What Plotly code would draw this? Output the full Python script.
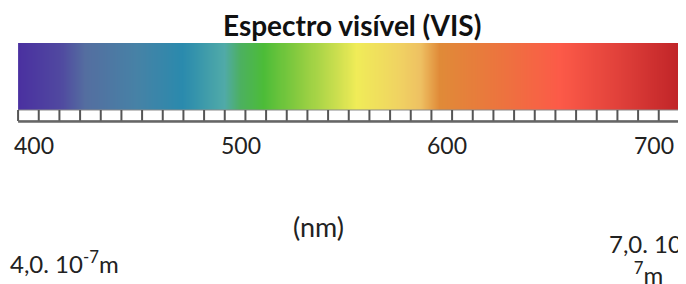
import numpy as np
import plotly.graph_objects as go

# ---- data ----
title = "Espectro visível (VIS)"
tick_values = [400, 500, 600, 700]
tick_labels = ["400", "500", "600", "700"]
unit_label = "(nm)"
left_label = "4,0. 10<sup>-7</sup>m"
right_label = "7,0. 10<sup>-</sup><br><sup>7</sup>m"

# spectrum span (nm) and colour stops (wavelength nm, colour)
span_start = 392.3
span_end = 712.1
stop_nm = [392.3, 412.6, 425.0, 450.0, 472.0, 492.0, 500.0, 511.0, 529.0, 548.0, 556.0, 577.0, 587.0, 596.5, 625.5, 654.5, 683.5, 712.1]
stop_colors = ["#4a30a0", "#5048a0", "#546ea0", "#4682a6", "#2a8aad", "#50aaa8", "#4cb060", "#4cbc38",
               "#8ccc40", "#d0e050", "#f0ec58", "#f0d262", "#eec062", "#e08a38", "#ec743e", "#fc5a48",
               "#e0403a", "#c02428"]
minor_ticks = list(np.arange(392.3, 712.2, 10.0))

# ---- figure ----
PAGE_W, PAGE_H = 686, 284
OFF = 8  # default body margin of the html page
W, H = PAGE_W - OFF, PAGE_H - OFF
px_per_nm = 620 / 300
x_page0 = 400 - 34 / px_per_nm          # wavelength at page pixel 0


def px(p):
    return x_page0 + p / px_per_nm


edges = np.linspace(span_start, span_end, 641)
centers = (edges[:-1] + edges[1:]) / 2
cs = [[(n - span_start) / (span_end - span_start), c] for n, c in zip(stop_nm, stop_colors)]

fig = go.Figure()
fig.add_trace(go.Heatmap(x=edges, y=[43, 110], z=[centers], colorscale=cs,
                         zmin=span_start, zmax=span_end, showscale=False, hoverinfo="skip"))

# tick strip: white boxes with grey separators
fig.add_trace(go.Scatter(x=[span_start, span_end, span_end, span_start, span_start],
                         y=[110, 110, 121, 121, 110], fill="toself", fillcolor="white",
                         mode="lines", line=dict(color="#8a8a8a", width=1), hoverinfo="skip"))
vx, vy = [], []
for t in minor_ticks:
    vx += [t, t, None]
    vy += [110, 121, None]
fig.add_trace(go.Scatter(x=vx, y=vy, mode="lines", line=dict(color="#555555", width=2), hoverinfo="skip"))
fig.add_trace(go.Scatter(x=[span_start, span_end], y=[121.5, 121.5], mode="lines",
                         line=dict(color="#666666", width=2.5), hoverinfo="skip"))

font = "Lato, 'Open Sans', sans-serif"
ann = []
ann.append(dict(x=px(352), y=25, text="<b>" + title + "</b>", showarrow=False,
                font=dict(family=font, size=28, color="#111111"), xanchor="center", yanchor="middle"))
for v, l in zip(tick_values, tick_labels):
    ann.append(dict(x=v, y=145, text=l, showarrow=False, font=dict(family=font, size=23, color="#222222"),
                    xanchor="center", yanchor="middle"))
ann.append(dict(x=px(318), y=226, text=unit_label, showarrow=False,
                font=dict(family=font, size=27, color="#222222"), xanchor="center", yanchor="middle"))
ann.append(dict(x=0, xref="paper", y=262, text=left_label, showarrow=False,
                font=dict(family=font, size=24, color="#222222"), xanchor="left", yanchor="middle"))
ann.append(dict(x=px(607), y=257, text=right_label, showarrow=False, align="center",
                font=dict(family=font, size=24, color="#222222"), xanchor="left", yanchor="middle"))

fig.update_layout(width=W, height=H, margin=dict(l=0, r=0, t=0, b=0),
                  paper_bgcolor="white", plot_bgcolor="white", showlegend=False,
                  annotations=ann,
                  xaxis=dict(range=[px(OFF), px(PAGE_W)], visible=False, domain=[0, 1]),
                  yaxis=dict(range=[PAGE_H, OFF], visible=False, domain=[0, 1]))
fig.write_html("out.html")
